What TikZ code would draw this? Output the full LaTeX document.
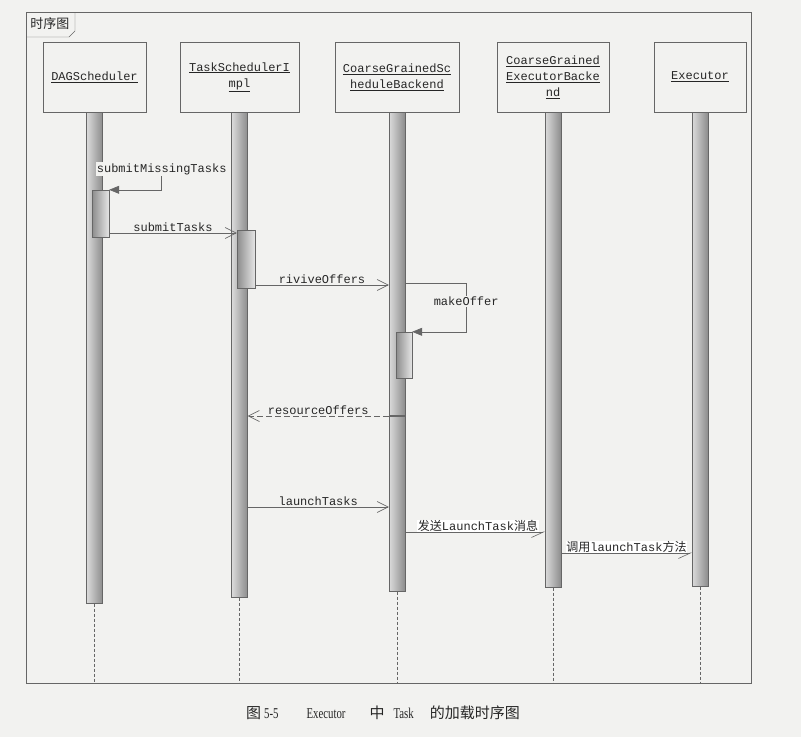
\documentclass[tikz,border=0pt]{standalone}
\usepackage{fontspec}
\setmainfont{Liberation Serif}
\setmonofont{Liberation Mono}
\newfontfamily\cjk{Noto Sans CJK SC}
\newfontfamily\capserif{Liberation Serif}[FakeStretch=0.72]
\usetikzlibrary{positioning}
\usetikzlibrary{arrows.meta}
\definecolor{paper}{HTML}{F2F2F0}
\definecolor{ink}{HTML}{262626}
\definecolor{wire}{HTML}{666666}

\begin{document}
\begin{tikzpicture}[x=1pt,y=-1pt,every node/.style={align=center,text=ink},
obj/.style={draw=wire,fill=paper,minimum height=70pt,inner sep=0pt,font=\ttfamily\fontsize{12}{16}\selectfont},
bar/.style={draw=wire,left color=black!14,right color=black!45,minimum width=16pt,inner sep=0pt},
act/.style={draw=wire,left color=black!45,right color=black!10,minimum width=17pt,inner sep=0pt},
life/.style={draw=wire,dash pattern=on 3pt off 2pt},
msg/.style={draw=wire,line width=0.6pt,-{Straight Barb[length=11pt,width=11pt]}},
reply/.style={msg,dash pattern=on 6pt off 3pt},
async/.style={draw=wire,line width=0.6pt,-{Straight Barb[right,length=12pt,width=11pt]}},
selfcall/.style={draw=wire,line width=0.6pt,-{Triangle[length=10pt,width=8pt]}},
lbl/.style={font=\ttfamily\fontsize{12}{14}\selectfont,fill=paper,inner sep=1pt}]
\fill[paper] (0,0) rectangle (801,737);
\useasboundingbox (0,0) rectangle (801,737);

% frame
\draw[wire] (26,12) rectangle (751,683);
\draw[wire] (26,37) -- (69,37) -- (75,31) -- (75,12);
\node[font=\fontsize{13}{15}\selectfont] (title) at (50,24) {\cjk 时序图};
\coordinate (fb) at (0,683);

% objects
\node[obj,minimum width=103pt] (h1) at (94.5,77) {\underline{DAGScheduler}};
\node[obj,minimum width=119pt] (h2) at (239.5,77) {\underline{TaskSchedulerI}\\\underline{mpl}};
\node[obj,minimum width=124pt] (h3) at (397,77) {\underline{CoarseGrainedSc}\\\underline{heduleBackend}};
\node[obj,minimum width=112pt] (h4) at (553,77) {\underline{CoarseGrained}\\\underline{ExecutorBacke}\\\underline{nd}};
\node[obj,minimum width=92pt] (h5) at (700,77) {\underline{Executor}};

% lifelines
\node[bar,minimum height=491pt,below=0pt of h1] (l1) {};
\node[bar,minimum height=485pt,below=0pt of h2] (l2) {};
\node[bar,minimum height=479pt,below=0pt of h3] (l3) {};
\node[bar,minimum height=475pt,below=0pt of h4] (l4) {};
\node[bar,minimum height=474pt,below=0pt of h5] (l5) {};
\draw[life] (l1.south) -- (l1.south |- fb);
\draw[life] (l2.south) -- (l2.south |- fb);
\draw[life] (l3.south) -- (l3.south |- fb);
\draw[life] (l4.south) -- (l4.south |- fb);
\draw[life] (l5.south) -- (l5.south |- fb);

% activations
\node[act,minimum height=47pt] (a1) at (100.5,213.5) {};
\node[act,minimum height=58pt,minimum width=18pt] (a2) at (246,259) {};
\node[act,minimum height=46pt,minimum width=16pt] (a3) at (404,355) {};

% message levels
\coordinate (m1) at (0,165);
\coordinate (m2) at (0,233);
\coordinate (m3) at (0,285);
\coordinate (m4) at (0,283);
\coordinate (m5) at (0,416);
\coordinate (m6) at (0,507);
\coordinate (m7) at (0,532);
\coordinate (m8) at (0,553);

% messages
\draw[selfcall] (l1.east |- m1) -- ++(59,0) node[lbl,yshift=-4pt] {submitMissingTasks} |- (a1.north east);
\draw[msg] (a1.east |- m2) -- node[lbl,above,fill=none] {submitTasks} (a2.west |- m2);
\draw[msg] (a2.east |- m3) -- node[lbl,above,fill=none] {riviveOffers} (l3.west |- m3);
\draw[selfcall] (l3.east |- m4) -- ++(61,0) |- node[lbl,pos=0.19] {makeOffer} (a3.north east);
\draw[wire,line width=1.2pt] (l3.west |- m5) -- (l3.east |- m5);
\draw[reply] (l3.west |- m5) -- node[lbl,above,fill=none] {resourceOffers} (l2.east |- m5);
\draw[msg] (l2.east |- m6) -- node[lbl,above,fill=none] {launchTasks} (l3.west |- m6);
\draw[async] (l3.east |- m7) -- node[lbl,above,inner sep=0.5pt,xshift=3pt,fill=white] {{\cjk 发送}LaunchTask{\cjk 消息}} (l4.west |- m7);
\draw[async] (l4.east |- m8) -- node[lbl,above,inner sep=0.5pt,fill=white] {{\cjk 调用}launchTask{\cjk 方法}} (l5.west |- m8);

% caption
\node[font=\capserif\fontsize{15}{17}\selectfont,anchor=west,inner sep=0pt] (cap) at (246,713) {{\cjk 图}\hspace{3pt}5-5\hspace{28pt}Executor\hspace{24pt}{\cjk 中}\hspace{9pt}Task\hspace{16pt}{\cjk 的加载时序图}};
\end{tikzpicture}
\end{document}
